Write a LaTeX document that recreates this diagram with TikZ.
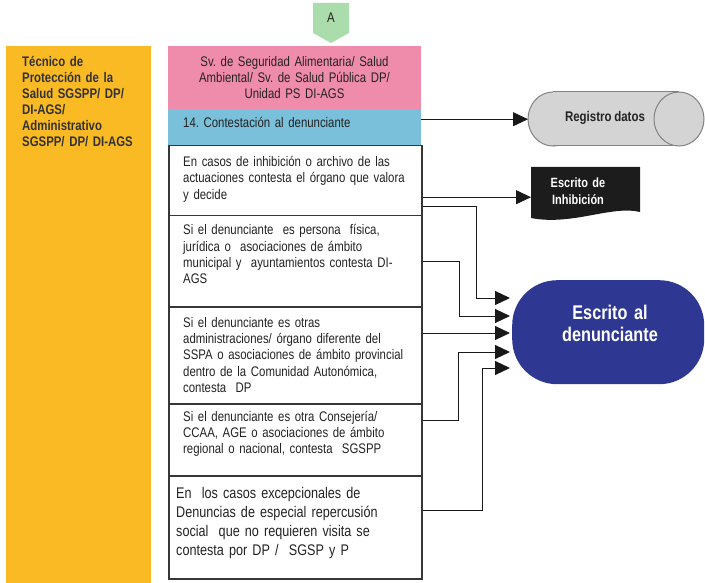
\documentclass[tikz,border=0pt]{standalone}
\usepackage{fontspec}
\setmainfont{Liberation Sans}[FakeStretch=0.82, WordSpace=0.85]
\usetikzlibrary{arrows.meta}

\definecolor{laneorange}{RGB}{250,186,35}
\definecolor{orgpink}{RGB}{240,140,171}
\definecolor{stepblue}{RGB}{122,192,218}
\definecolor{boxline}{RGB}{55,55,55}
\definecolor{textgray}{RGB}{35,35,35}
\definecolor{lanetext}{RGB}{50,50,50}
\definecolor{connline}{RGB}{25,25,25}
\definecolor{cylfill}{RGB}{212,212,212}
\definecolor{cylline}{RGB}{130,130,130}
\definecolor{docblack}{RGB}{28,28,28}
\definecolor{outblue}{RGB}{46,56,146}
\definecolor{pagegreen}{RGB}{170,220,172}

\begin{document}
\frenchspacing
\begin{tikzpicture}[x=1pt,y=-1pt,
  lanebox/.style={fill=laneorange, inner sep=0, anchor=north west},
  headbox/.style={inner sep=0, anchor=north west, minimum width=253pt},
  stepbox/.style={draw=boxline, line width=1.5pt, fill=white, inner sep=0,
    anchor=north west, minimum width=253pt},
  txt/.style={inner sep=0, anchor=base west, align=left, text width=245pt,
    text=textgray, font=\fontsize{13.9}{16.3}\selectfont},
  conn/.style={draw=connline, line width=1pt, -{Triangle[length=15pt,width=14pt]}},
  anchorbox/.style={inner sep=0, anchor=north west},
]
\useasboundingbox (0,0) rectangle (705,583);

% off-page connector
\fill[pagegreen] (313,3) -- (349,3) -- (349,33) -- (331,43) -- (313,33) -- cycle;
\node[inner sep=0, anchor=base, text=textgray, font=\fontsize{14}{15}\selectfont] (pageA) at (331,23) {A};

% swimlane
\node[lanebox, minimum width=145pt, minimum height=537pt] (lane) at (6,46) {};
\node[inner sep=0, anchor=base west, align=left, text width=130pt, text=lanetext,
  font=\bfseries\fontsize{13.9}{16.1}\selectfont] (lanet) at (22,66.5)
  {Técnico de\\Protección de la\\Salud SGSPP/ DP/\\DI-AGS/\\Administrativo\\SGSPP/ DP/ DI-AGS};

% header and step
\node[headbox, fill=orgpink, minimum height=63pt] (org) at (168,46) {};
\node[inner sep=0, anchor=base, align=center, text width=250pt, text=textgray,
  font=\fontsize{13.9}{15.8}\selectfont] (orgt) at (294.5,66.5)
  {Sv. de Seguridad Alimentaria/ Salud\\Ambiental/ Sv. de Salud Pública DP/\\Unidad PS DI-AGS};
\node[headbox, fill=stepblue, minimum height=36pt] (step) at (168,109) {};
\node[txt] (stept) at (183,128) {14. Contestación al denunciante};

% cases
\node[stepbox, minimum height=70pt] (b1) at (168,145) {};
\node[stepbox, minimum height=91pt] (b2) at (168,215) {};
\node[stepbox, minimum height=97pt] (b3) at (168,306) {};
\node[stepbox, minimum height=72pt] (b4) at (168,403) {};
\node[stepbox, minimum height=103pt] (b5) at (168,475) {};

\node[txt] (b1t) at (183,166.5)
  {En casos de inhibición o archivo de las\\actuaciones contesta el órgano que valora\\y decide};
\node[txt] (b2t) at (183,235)
  {Si el denunciante\ \ es persona\ \ física,\\jurídica o\ \ asociaciones de ámbito\\municipal y\ \ ayuntamientos contesta DI-\\AGS};
\node[txt, font=\fontsize{13.9}{16.4}\selectfont] (b3t) at (183,327)
  {Si el denunciante es otras\\administraciones/ órgano diferente del\\SSPA o asociaciones de ámbito provincial\\dentro de la Comunidad Autonómica,\\contesta\ \ DP};
\node[txt, font=\fontsize{13.9}{16.4}\selectfont] (b4t) at (183,421)
  {Si el denunciante es otra Consejería/\\CCAA, AGE o asociaciones de ámbito\\regional o nacional, contesta\ \ SGSPP};
\node[txt, font=\fontsize{15.4}{19.1}\selectfont] (b5t) at (176,498)
  {En\ \ los casos excepcionales de\\Denuncias de especial repercusión\\social\ \ que no requieren visita se\\contesta por DP /\ \ SGSP y P};

% data record (horizontal cylinder)
\node[anchorbox, minimum width=177pt, minimum height=54pt] (reg) at (528,92) {};
\filldraw[fill=cylfill, draw=cylline, line width=1pt] (553,119) ellipse[x radius=25, y radius=27];
\fill[cylfill] (553,92) rectangle (679,146);
\draw[cylline, line width=1pt] (553,92) -- (679,92) (553,146) -- (679,146);
\filldraw[fill=cylfill, draw=cylline, line width=1pt] (679,119) ellipse[x radius=25, y radius=27];
\node[inner sep=0, anchor=base, text=textgray, font=\bfseries\fontsize{14}{15}\selectfont] (regt) at (605,122) {Registro datos};

% inhibition document
\node[anchorbox, minimum width=109pt, minimum height=60pt] (inh) at (531,167) {};
\fill[docblack] (531,167) -- (640,167) -- (640,212)
  .. controls (612,205) and (572,226) .. (531,218) -- cycle;
\node[inner sep=0, anchor=base, align=center, text width=100pt, text=white,
  font=\bfseries\fontsize{13.4}{17}\selectfont] (inht) at (578,188) {Escrito de\\Inhibición};

% reply to the complainant
\node[anchorbox, fill=outblue, rounded corners=45pt, minimum width=192pt, minimum height=104pt] (den) at (512,280) {};
\node[inner sep=0, anchor=base, align=center, text width=180pt, text=white,
  font=\bfseries\fontsize{19.8}{23}\selectfont] (dent) at (610,319) {Escrito al\\denunciante};

% arrow targets on the reply shape
\coordinate (d1) at (510,298);
\coordinate (d2) at (510,316);
\coordinate (d3) at (510,333);
\coordinate (d4) at (510,352);
\coordinate (d5) at (510,368);

% connectors
\draw[conn] (step.east |- reg.west) -- (reg.west);
\draw[conn] (b1.east |- inh.west) -- (inh.west);
\draw[conn] (b1.east |- 0,207) -- ++(54,0) |- (d1);
\draw[conn] (b2.east |- 0,262) -- ++(37,0) |- (d2);
\draw[conn] (b3.east |- d3) -- (d3);
\draw[conn] (b4.east |- 0,420) -- ++(36,0) |- (d4);
\draw[conn] (b5.east |- 0,510) -- ++(60,0) |- (d5);
\end{tikzpicture}
\end{document}
